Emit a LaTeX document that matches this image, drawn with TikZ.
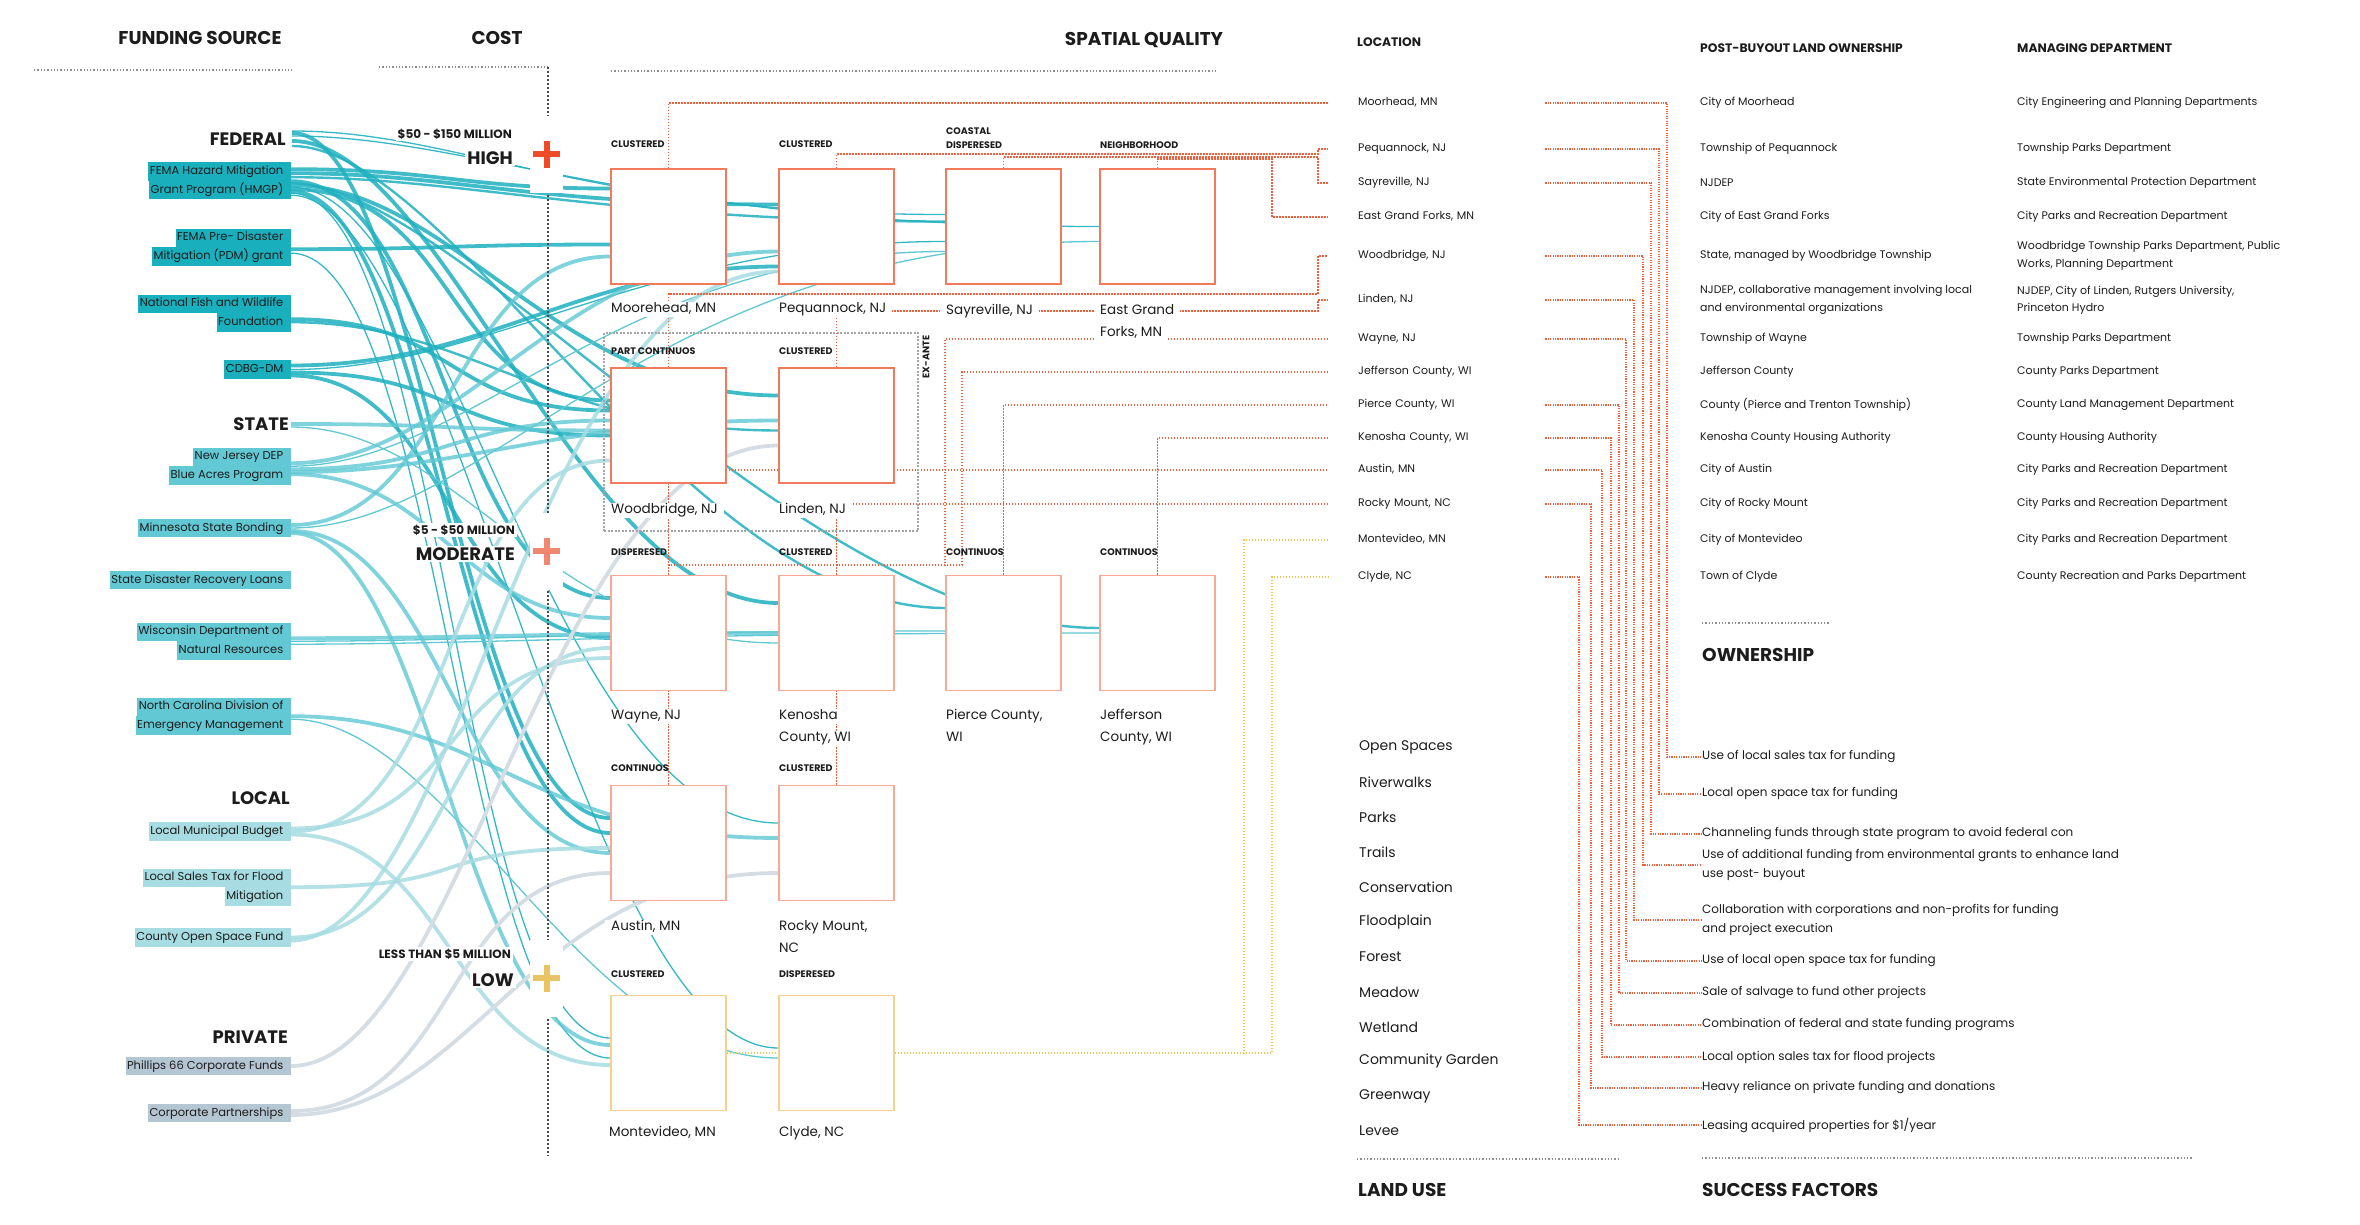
\documentclass[tikz,border=0pt]{standalone}
\usepackage{fontspec}
\setmainfont{Poppins}
\usetikzlibrary{calc}
\pgfdeclarelayer{bg}
\pgfsetlayers{bg,main}
\definecolor{ink}{HTML}{1C1C1C}
\definecolor{fedC}{HTML}{1FB0C0}
\definecolor{staC}{HTML}{5FC8D3}
\definecolor{locC}{HTML}{A6DCE2}
\definecolor{priC}{HTML}{D5DDE4}
\definecolor{fedB}{HTML}{1AAFBD}
\definecolor{staB}{HTML}{62C9D4}
\definecolor{locB}{HTML}{A7DDE2}
\definecolor{priB}{HTML}{B5C6D3}
\definecolor{orng}{HTML}{F1603A}
\definecolor{sqO}{HTML}{F27A5C}
\definecolor{sqS}{HTML}{F6A995}
\definecolor{sqY}{HTML}{F2D28E}
\definecolor{ylw}{HTML}{F1C650}
\definecolor{hiC}{HTML}{EE4A28}
\definecolor{moC}{HTML}{F0876E}
\definecolor{loC}{HTML}{EAC462}
\definecolor{gry}{HTML}{8E8E8E}
\definecolor{axg}{HTML}{4A4A4A}
\newcommand\fHdr{\fontsize{18.5}{21}\selectfont\bfseries}
\newcommand\fCat{\fontsize{18}{21}\selectfont\bfseries}
\newcommand\fSrc{\fontsize{11.5}{13}\selectfont}
\newcommand\fSm{\fontsize{11}{17.5}\selectfont}
\newcommand\fSmB{\fontsize{12.3}{14}\selectfont\bfseries}
\newcommand\fTy{\fontsize{9.5}{11}\selectfont\bfseries}
\newcommand\fNm{\fontsize{13.5}{16}\selectfont}
\newcommand\fLu{\fontsize{14}{17}\selectfont}
\newcommand\fSf{\fontsize{12}{18.5}\selectfont}
\newcommand\fCs{\fontsize{12}{14}\selectfont\bfseries}
\newcommand\fCl{\fontsize{18}{21}\selectfont\bfseries}
\newcommand\flw[7]{\draw[#1] ($(#2)+(#3)$) .. controls +(#6,0) and +(-#7,0) .. ($(#4)+(#5)$);}
\begin{document}
\begin{tikzpicture}[x=1pt,y=-1pt,
  every node/.style={text=ink},
  hdr/.style={inner sep=0pt, font=\fHdr},
  cat/.style={anchor=east, inner sep=0pt, font=\fCat},
  srcbox/.style={anchor=east, inner xsep=1.5pt, inner ysep=0pt, minimum height=18.5pt, text height=8.6pt, text depth=2.6pt, font=\fSrc, execute at end node={\hspace*{6pt}}},
  fedbox/.style={srcbox, fill=fedB},
  stabox/.style={srcbox, fill=staB},
  locbox/.style={srcbox, fill=locB},
  pribox/.style={srcbox, fill=priB},
  sqA/.style={draw=sqO, line width=1.3pt, fill=white, minimum width=115pt, minimum height=115pt, inner sep=0pt},
  sqB/.style={sqA, draw=sqS},
  sqC/.style={sqA, draw=sqY},
  ty/.style={anchor=west, inner sep=0pt, font=\fTy},
  nm/.style={anchor=west, fill=white, inner xsep=6pt, inner ysep=1pt, font=\fNm, text height=10pt, text depth=3pt},
  loc/.style={anchor=west, inner sep=0pt, text width=187pt, font=\fSm, text height=8pt, text depth=2.5pt},
  pb/.style={anchor=west, inner sep=0pt, align=left, font=\fSm},
  sfx/.style={anchor=west, inner sep=0pt, align=left, font=\fSf},
  lu/.style={anchor=west, inner sep=0pt, font=\fLu},
  costS/.style={anchor=east, fill=white, inner sep=2pt, font=\fCs},
  costL/.style={anchor=east, fill=white, inner sep=2pt, font=\fCl},
  plusbox/.style={fill=white, minimum width=33pt, minimum height=77pt, inner sep=0pt},
  plusln/.style={line width=6pt},
  gdot/.style={gry, line width=1.3pt, dash pattern=on 1.3pt off 2pt},
  axisl/.style={axg, line width=1.3pt, dash pattern=on 2pt off 2pt},
  odot/.style={orng, line width=1.5pt, dash pattern=on 1.5pt off 1.5pt},
  rdot/.style={orng, line width=1.1pt, dash pattern=on 1.1pt off 1.3pt},
  ydot/.style={ylw, line width=1.5pt, dash pattern=on 1.5pt off 1.5pt},
  exbox/.style={draw=gry!80, line width=1.2pt, dash pattern=on 2pt off 1.5pt, minimum width=314pt, minimum height=198pt, inner sep=0pt},
  fT/.style={fedC, line width=3.8pt, opacity=0.85},
  fM/.style={fedC, line width=2.4pt, opacity=0.85},
  fN/.style={fedC, line width=1.3pt, opacity=0.9},
  sT/.style={staC, line width=3.8pt, opacity=0.8},
  sN/.style={staC, line width=1.3pt},
  lT/.style={locC, line width=3.8pt, opacity=0.85},
  lN/.style={locC, line width=1.5pt},
  pT/.style={priC, line width=3.8pt}
]
\useasboundingbox (0,0) rectangle (2360,1225);

% ---------- headers ----------
\node[hdr] (hFund) at (200,38) {FUNDING SOURCE};
\node[hdr] (hCost) at (497,38) {COST};
\node[hdr] (hSpat) at (1144,40) {SPATIAL QUALITY};
\node[anchor=west, inner sep=0pt, font=\fSmB] (hLoc) at (1357,42) {LOCATION};
\node[anchor=west, inner sep=0pt, font=\fSmB] (hPost) at (1700,48) {POST-BUYOUT LAND OWNERSHIP};
\node[anchor=west, inner sep=0pt, font=\fSmB] (hMan) at (2017,48) {MANAGING DEPARTMENT};

% ---------- funding sources ----------
\node[cat] (fed) at (286,139) {FEDERAL};
\node[fedbox] (hmgp1) at (291,171.75) {FEMA Hazard Mitigation};
\node[fedbox] (hmgp2) at (291,190.25) {Grant Program (HMGP)};
\node[fedbox] (pdm1) at (291,237.75) {FEMA Pre- Disaster};
\node[fedbox] (pdm2) at (291,256.25) {Mitigation (PDM) grant};
\node[fedbox] (nfwf1) at (291,303.75) {National Fish and Wildlife};
\node[fedbox] (nfwf2) at (291,322.25) {Foundation};
\node[fedbox] (cdbg) at (291,369.5) {CDBG-DM};
\node[cat] (state) at (289,424) {STATE};
\node[stabox] (njdep1) at (291,456.75) {New Jersey DEP};
\node[stabox] (njdep2) at (291,475.25) {Blue Acres Program};
\node[stabox] (mnsb) at (291,528) {Minnesota State Bonding};
\node[stabox] (sdrl) at (291,580) {State Disaster Recovery Loans};
\node[stabox] (wdnr1) at (291,631.75) {Wisconsin Department of};
\node[stabox] (wdnr2) at (291,650.25) {Natural Resources};
\node[stabox] (ncem1) at (291,706.75) {North Carolina Division of};
\node[stabox] (ncem2) at (291,725.25) {Emergency Management};
\node[cat] (local) at (290,798) {LOCAL};
\node[locbox] (lmb) at (291,831.5) {Local Municipal Budget};
\node[locbox] (lst1) at (291,877.75) {Local Sales Tax for Flood};
\node[locbox] (lst2) at (291,896.25) {Mitigation};
\node[locbox] (cosf) at (291,937.5) {County Open Space Fund};
\node[cat] (priv) at (288,1037) {PRIVATE};
\node[pribox] (phil) at (291,1066) {Phillips 66 Corporate Funds};
\node[pribox] (corp) at (291,1113) {Corporate Partnerships};

% ---------- cost labels ----------
\node[costS] (cHiS) at (514,134) {\$50 - \$150 MILLION};
\node[costL] (cHi) at (515,158) {HIGH};
\node[plusbox] (pHi) at (546.5,154.5) {};
\draw[plusln,hiC] ($(pHi.center)+(-13.5,0)$) -- ($(pHi.center)+(13.5,0)$) ($(pHi.center)+(0,-13.5)$) -- ($(pHi.center)+(0,13.5)$);
\node[costS] (cMoS) at (517,530) {\$5 - \$50 MILLION};
\node[costL] (cMo) at (517,554) {MODERATE};
\node[plusbox] (pMo) at (546.5,551) {};
\draw[plusln,moC] ($(pMo.center)+(-13.5,0)$) -- ($(pMo.center)+(13.5,0)$) ($(pMo.center)+(0,-13.5)$) -- ($(pMo.center)+(0,13.5)$);
\node[costS] (cLoS) at (513,954) {LESS THAN \$5 MILLION};
\node[costL] (cLo) at (516,980) {LOW};
\node[plusbox] (pLo) at (546.5,978) {};
\draw[plusln,loC] ($(pLo.center)+(-13.5,0)$) -- ($(pLo.center)+(13.5,0)$) ($(pLo.center)+(0,-13.5)$) -- ($(pLo.center)+(0,13.5)$);

% ---------- ex-ante box ----------
\node[exbox] (exante) at (761,432) {};
\node[ty, anchor=center, rotate=90] (exaTxt) at (926,357) {EX-ANTE};

% ---------- squares ----------
\node[sqA] (sqMo) at (668.5,226.5) {};
\node[sqA] (sqPq) at (836.5,226.5) {};
\node[sqA] (sqSy) at (1003.5,226.5) {};
\node[sqA] (sqEg) at (1157.5,226.5) {};
\node[sqA] (sqWb) at (668.5,425.5) {};
\node[sqA] (sqLn) at (836.5,425.5) {};
\node[sqB] (sqWy) at (668.5,633) {};
\node[sqB] (sqKn) at (836.5,633) {};
\node[sqB] (sqPc) at (1003.5,633) {};
\node[sqB] (sqJf) at (1157.5,633) {};
\node[sqB] (sqAu) at (668.5,843) {};
\node[sqB] (sqRm) at (836.5,843) {};
\node[sqC] (sqMv) at (668.5,1053) {};
\node[sqC] (sqCl) at (836.5,1053) {};

% type labels
\node[ty] (tMo) at (611,144) {CLUSTERED};
\node[ty] (tPq) at (779,144) {CLUSTERED};
\node[ty] (tSy1) at (946,131) {COASTAL};
\node[ty] (tSy2) at (946,145) {DISPERESED};
\node[ty] (tEg) at (1100,145) {NEIGHBORHOOD};
\node[ty] (tWb) at (611,351) {PART CONTINUOS};
\node[ty] (tLn) at (779,351) {CLUSTERED};
\node[ty] (tWy) at (611,552) {DISPERESED};
\node[ty] (tKn) at (779,552) {CLUSTERED};
\node[ty] (tPc) at (946,552) {CONTINUOS};
\node[ty] (tJf) at (1100,552) {CONTINUOS};
\node[ty] (tAu) at (611,768) {CONTINUOS};
\node[ty] (tRm) at (779,768) {CLUSTERED};
\node[ty] (tMv) at (611,974) {CLUSTERED};
\node[ty] (tCl) at (779,974) {DISPERESED};

% name labels
\node[nm] (nMo) at (605,309) {Moorehead, MN};
\node[nm] (nPq) at (773,309) {Pequannock, NJ};
\node[nm] (nSy) at (940,311) {Sayreville, NJ};
\node[nm] (nEg1) at (1094,311) {East Grand};
\node[nm] (nEg2) at (1094,333) {Forks, MN};
\node[nm] (nWb) at (605,510) {Woodbridge, NJ};
\node[nm] (nLn) at (773,510) {Linden, NJ};
\node[nm] (nWy) at (605,716) {Wayne, NJ};
\node[nm] (nKn1) at (773,716) {Kenosha};
\node[nm] (nKn2) at (773,738) {County, WI};
\node[nm] (nPc1) at (940,716) {Pierce County,};
\node[nm] (nPc2) at (940,738) {WI};
\node[nm] (nJf1) at (1094,716) {Jefferson};
\node[nm] (nJf2) at (1094,738) {County, WI};
\node[nm] (nAu) at (605,927) {Austin, MN};
\node[nm] (nRm1) at (773,927) {Rocky Mount,};
\node[nm] (nRm2) at (773,949) {NC};
\node[nm] (nMv) at (603,1133) {Montevideo, MN};
\node[nm] (nCl) at (773,1133) {Clyde, NC};

% ---------- location column ----------
\node[loc] (locMo) at (1358,103) {Moorhead, MN};
\node[loc] (locPq) at (1358,149) {Pequannock, NJ};
\node[loc] (locSy) at (1358,183) {Sayreville, NJ};
\node[loc] (locEg) at (1358,217) {East Grand Forks, MN};
\node[loc] (locWb) at (1358,256) {Woodbridge, NJ};
\node[loc] (locLn) at (1358,300) {Linden, NJ};
\node[loc] (locWy) at (1358,339) {Wayne, NJ};
\node[loc] (locJf) at (1358,372) {Jefferson County, WI};
\node[loc] (locPc) at (1358,405) {Pierce County, WI};
\node[loc] (locKn) at (1358,438) {Kenosha County, WI};
\node[loc] (locAu) at (1358,470) {Austin, MN};
\node[loc] (locRm) at (1358,504) {Rocky Mount, NC};
\node[loc] (locMv) at (1358,540) {Montevideo, MN};
\node[loc] (locCl) at (1358,577) {Clyde, NC};

% ---------- ownership column ----------
\node[pb] (oMo) at (1700,103) {City of Moorhead};
\node[pb] (oPq) at (1700,149) {Township of Pequannock};
\node[pb] (oSy) at (1700,183) {NJDEP};
\node[pb] (oEg) at (1700,217) {City of East Grand Forks};
\node[pb] (oWb) at (1700,256) {State, managed by Woodbridge Township};
\node[pb] (oLn) at (1700,300) {NJDEP, collaborative management involving local\\and environmental organizations};
\node[pb] (oWy) at (1700,339) {Township of Wayne};
\node[pb] (oJf) at (1700,372) {Jefferson County};
\node[pb] (oPc) at (1700,405) {County (Pierce and Trenton Township)};
\node[pb] (oKn) at (1700,438) {Kenosha County Housing Authority};
\node[pb] (oAu) at (1700,470) {City of Austin};
\node[pb] (oRm) at (1700,504) {City of Rocky Mount};
\node[pb] (oMv) at (1700,540) {City of Montevideo};
\node[pb] (oCl) at (1700,577) {Town of Clyde};

% ---------- managing column ----------
\node[pb] (mMo) at (2017,103) {City Engineering and Planning Departments};
\node[pb] (mPq) at (2017,149) {Township Parks Department};
\node[pb] (mSy) at (2017,183) {State Environmental Protection Department};
\node[pb] (mEg) at (2017,217) {City Parks and Recreation Department};
\node[pb] (mWb) at (2017,256) {Woodbridge Township Parks Department, Public\\Works, Planning Department};
\node[pb] (mLn) at (2017,300) {NJDEP, City of Linden, Rutgers University,\\Princeton Hydro};
\node[pb] (mWy) at (2017,339) {Township Parks Department};
\node[pb] (mJf) at (2017,372) {County Parks Department};
\node[pb] (mPc) at (2017,405) {County Land Management Department};
\node[pb] (mKn) at (2017,438) {County Housing Authority};
\node[pb] (mAu) at (2017,470) {City Parks and Recreation Department};
\node[pb] (mRm) at (2017,504) {City Parks and Recreation Department};
\node[pb] (mMv) at (2017,540) {City Parks and Recreation Department};
\node[pb] (mCl) at (2017,577) {County Recreation and Parks Department};

% ---------- bottom headers ----------
\node[hdr, anchor=west] (hOwn) at (1702,655) {OWNERSHIP};
\node[hdr, anchor=west] (hLand) at (1358,1190) {LAND USE};
\node[hdr, anchor=west] (hSucc) at (1702,1190) {SUCCESS FACTORS};

% land use
\node[lu] (lu1) at (1359,747) {Open Spaces};
\node[lu] (lu2) at (1359,782) {Riverwalks};
\node[lu] (lu3) at (1359,817) {Parks};
\node[lu] (lu4) at (1359,852) {Trails};
\node[lu] (lu5) at (1359,887) {Conservation};
\node[lu] (lu6) at (1359,922) {Floodplain};
\node[lu] (lu7) at (1359,957) {Forest};
\node[lu] (lu8) at (1359,992) {Meadow};
\node[lu] (lu9) at (1359,1027) {Wetland};
\node[lu] (lu10) at (1359,1061) {Community Garden};
\node[lu] (lu11) at (1359,1096) {Greenway};
\node[lu] (lu12) at (1359,1131) {Levee};

% success factors
\node[sfx] (sf1) at (1702,757) {Use of local sales tax for funding};
\node[sfx] (sf2) at (1702,794) {Local open space tax for funding};
\node[sfx] (sf3) at (1702,834) {Channeling funds through state program to avoid federal con};
\node[sfx] (sf4) at (1702,865) {Use of additional funding from environmental grants to enhance land\\use post- buyout};
\node[sfx] (sf5) at (1702,920) {Collaboration with corporations and non-profits for funding\\ and project execution};
\node[sfx] (sf6) at (1702,961) {Use of local open space tax for funding};
\node[sfx] (sf7) at (1702,993) {Sale of salvage to fund other projects};
\node[sfx] (sf8) at (1702,1025) {Combination of federal and state funding programs};
\node[sfx] (sf9) at (1702,1057) {Local option sales tax for flood projects};
\node[sfx] (sf10) at (1702,1088) {Heavy reliance on private funding and donations};
\node[sfx] (sf11) at (1702,1125) {Leasing acquired properties for \$1/year};

% ================= background layer =================
\begin{pgfonlayer}{bg}
\draw[gdot] (34,70) -- (292,70);
\draw[gdot] (379,67) -- (548,67);
\draw[gdot] (611,71) -- (1216,71);
\draw[gdot] (1702,623) -- (1829,623);
\draw[gdot] (1357,1159) -- (1618,1159);
\draw[gdot] (1702,1158) -- (2192,1158);

% flows
\flw{fN}{fed.east}{6,-8}{sqSy.west}{0,-12}{170}{360}
\flw{fN}{fed.east}{6,-3}{sqEg.west}{0,0}{180}{450}
\flw{fT}{fed.east}{6,2}{sqKn.west}{0,-30}{150}{200}
\flw{fM}{fed.east}{6,7}{sqPc.west}{0,-25}{160}{260}
\flw{fT}{fed.east}{6,-6}{sqAu.west}{0,-25}{130}{150}
\flw{fT}{hmgp1.south east}{0,-12}{sqMo.west}{0,-38}{150}{150}
\flw{fT}{hmgp1.south east}{0,-8}{sqPq.west}{0,-22}{160}{250}
\flw{fM}{hmgp1.south east}{0,-4}{sqSy.west}{0,-5}{170}{330}
\flw{fT}{hmgp1.south east}{0,0}{sqWy.west}{0,-35}{150}{160}
\flw{fT}{hmgp1.south east}{0,4}{sqLn.west}{0,-30}{160}{220}
\flw{fT}{hmgp1.south east}{0,8}{sqWb.west}{0,-25}{170}{170}
\flw{fT}{hmgp1.south east}{0,10}{sqAu.west}{0,-10}{140}{150}
\flw{fN}{hmgp1.south east}{0,12}{sqMv.west}{0,-15}{150}{150}
\flw{fN}{hmgp1.south east}{0,14}{sqCl.west}{0,-5}{160}{200}
\flw{fN}{hmgp1.south east}{0,6}{sqRm.west}{0,-20}{160}{230}
\flw{fM}{hmgp1.south east}{0,2}{sqJf.west}{0,-5}{170}{300}
\flw{fT}{pdm1.south east}{0,2}{sqMo.west}{0,18}{160}{160}
\flw{fN}{pdm1.south east}{0,6}{sqMv.west}{0,5}{150}{150}
\flw{fT}{nfwf1.south east}{0,6}{sqWb.west}{0,-15}{170}{170}
\flw{fM}{nfwf1.south east}{0,9}{sqLn.west}{0,5}{180}{230}
\flw{fT}{cdbg.east}{0,-4}{sqPq.west}{0,40}{200}{200}
\flw{fN}{cdbg.east}{0,0}{sqSy.west}{0,15}{200}{300}
\flw{fT}{cdbg.east}{0,3}{sqWb.west}{0,10}{170}{170}
\flw{fT}{cdbg.east}{0,6}{sqWy.west}{0,5}{160}{160}
\flw{sT}{state.east}{2,0}{sqWb.west}{0,5}{170}{170}
\flw{sN}{state.east}{2,3}{sqKn.west}{0,10}{170}{230}
\flw{sT}{njdep1.south east}{0,-3}{sqPq.west}{0,25}{170}{220}
\flw{sN}{njdep1.south east}{0,0}{sqSy.west}{0,25}{180}{330}
\flw{sT}{njdep1.south east}{0,3}{sqWb.west}{0,-5}{160}{160}
\flw{sT}{njdep1.south east}{0,6}{sqLn.west}{0,-5}{170}{220}
\flw{sT}{njdep1.south east}{0,8}{sqWy.west}{0,-15}{150}{150}
\flw{sT}{mnsb.east}{0,-3}{sqMo.west}{0,30}{160}{160}
\flw{sN}{mnsb.east}{0,0}{sqEg.west}{0,15}{200}{450}
\flw{sT}{mnsb.east}{0,3}{sqAu.west}{0,10}{150}{150}
\flw{sT}{mnsb.east}{0,5}{sqMv.west}{0,-8}{140}{150}
\flw{sT}{wdnr1.south east}{0,-3}{sqKn.west}{0,0}{200}{250}
\flw{sN}{wdnr1.south east}{0,0}{sqPc.west}{0,-2}{200}{350}
\flw{sN}{wdnr1.south east}{0,3}{sqJf.west}{0,0}{200}{450}
\flw{sT}{ncem1.south east}{0,0}{sqRm.west}{0,-5}{200}{250}
\flw{sN}{ncem1.south east}{0,3}{sqCl.west}{0,5}{160}{200}
\flw{lT}{lmb.east}{0,-3}{sqWy.west}{0,25}{180}{180}
\flw{lT}{lmb.east}{0,0}{sqWb.west}{0,35}{170}{170}
\flw{lT}{lmb.east}{0,3}{sqMv.west}{0,12}{160}{160}
\flw{lT}{lst1.south east}{0,0}{sqAu.west}{0,5}{200}{200}
\flw{lT}{cosf.east}{0,0}{sqWy.west}{0,15}{160}{160}
\flw{lT}{cosf.east}{0,3}{sqPq.west}{0,45}{170}{250}
\flw{pT}{phil.east}{0,0}{sqLn.west}{0,20}{170}{230}
\flw{pT}{corp.east}{0,-2}{sqAu.west}{0,30}{170}{170}
\flw{pT}{corp.east}{0,2}{sqRm.west}{0,30}{180}{250}

% cost axis
\draw[axisl] (548,67) -- (548,1156);

% square -> location connectors
\draw[odot] (sqMo.north) |- ([xshift=-30pt]locMo.west);
\draw[odot] (sqPq.north) |- (1318,154) |- ([xshift=-30pt]locPq.west);
\draw[odot] (sqSy.north) |- (1318,157) |- ([xshift=-30pt]locSy.west);
\draw[odot] (sqEg.north) |- (1272,159) |- ([xshift=-30pt]locEg.west);
\draw[odot] (sqWb.north) |- (1318,294) |- ([xshift=-30pt]locWb.west);
\draw[odot] (sqLn.north) |- (1318,311) |- ([xshift=-30pt]locLn.west);
\draw[odot] (sqWy.north) |- (945,565) |- ([xshift=-30pt]locWy.west);
\draw[odot] (sqKn.north) |- (962,565) |- ([xshift=-30pt]locJf.west);
\draw[odot] (sqPc.north) |- ([xshift=-30pt]locPc.west);
\draw[odot] (sqJf.north) |- ([xshift=-30pt]locKn.west);
\draw[odot] (sqAu.north) |- ([xshift=-30pt]locAu.west);
\draw[odot] (sqRm.north) |- ([xshift=-30pt]locRm.west);
\draw[ydot] (sqMv.east) -- (sqCl.west);
\draw[ydot] (sqCl.east) -| ([xshift=-114pt]locMv.west) -- ([xshift=-30pt]locMv.west);
\draw[ydot] (sqCl.east) -| ([xshift=-86pt]locCl.west) -- ([xshift=-30pt]locCl.west);

% location -> success factor connectors
\draw[rdot] (locMo.east) -| ($(sf1.west)+(-35,0)$) -- (sf1.west);
\draw[rdot] (locPq.east) -| ($(sf2.west)+(-43,0)$) -- (sf2.west);
\draw[rdot] (locSy.east) -| ($(sf3.west)+(-51,0)$) -- (sf3.west);
\draw[rdot] (locWb.east) -| ($(sf4.west)+(-59,0)$) -- (sf4.west);
\draw[rdot] (locLn.east) -| ($(sf5.west)+(-68,0)$) -- (sf5.west);
\draw[rdot] (locWy.east) -| ($(sf6.west)+(-76,0)$) -- (sf6.west);
\draw[rdot] (locPc.east) -| ($(sf7.west)+(-83,0)$) -- (sf7.west);
\draw[rdot] (locKn.east) -| ($(sf8.west)+(-91,0)$) -- (sf8.west);
\draw[rdot] (locAu.east) -| ($(sf9.west)+(-100,0)$) -- (sf9.west);
\draw[rdot] (locRm.east) -| ($(sf10.west)+(-111,0)$) -- (sf10.west);
\draw[rdot] (locCl.east) -| ($(sf11.west)+(-123,0)$) -- (sf11.west);
\end{pgfonlayer}
\end{tikzpicture}
\end{document}
